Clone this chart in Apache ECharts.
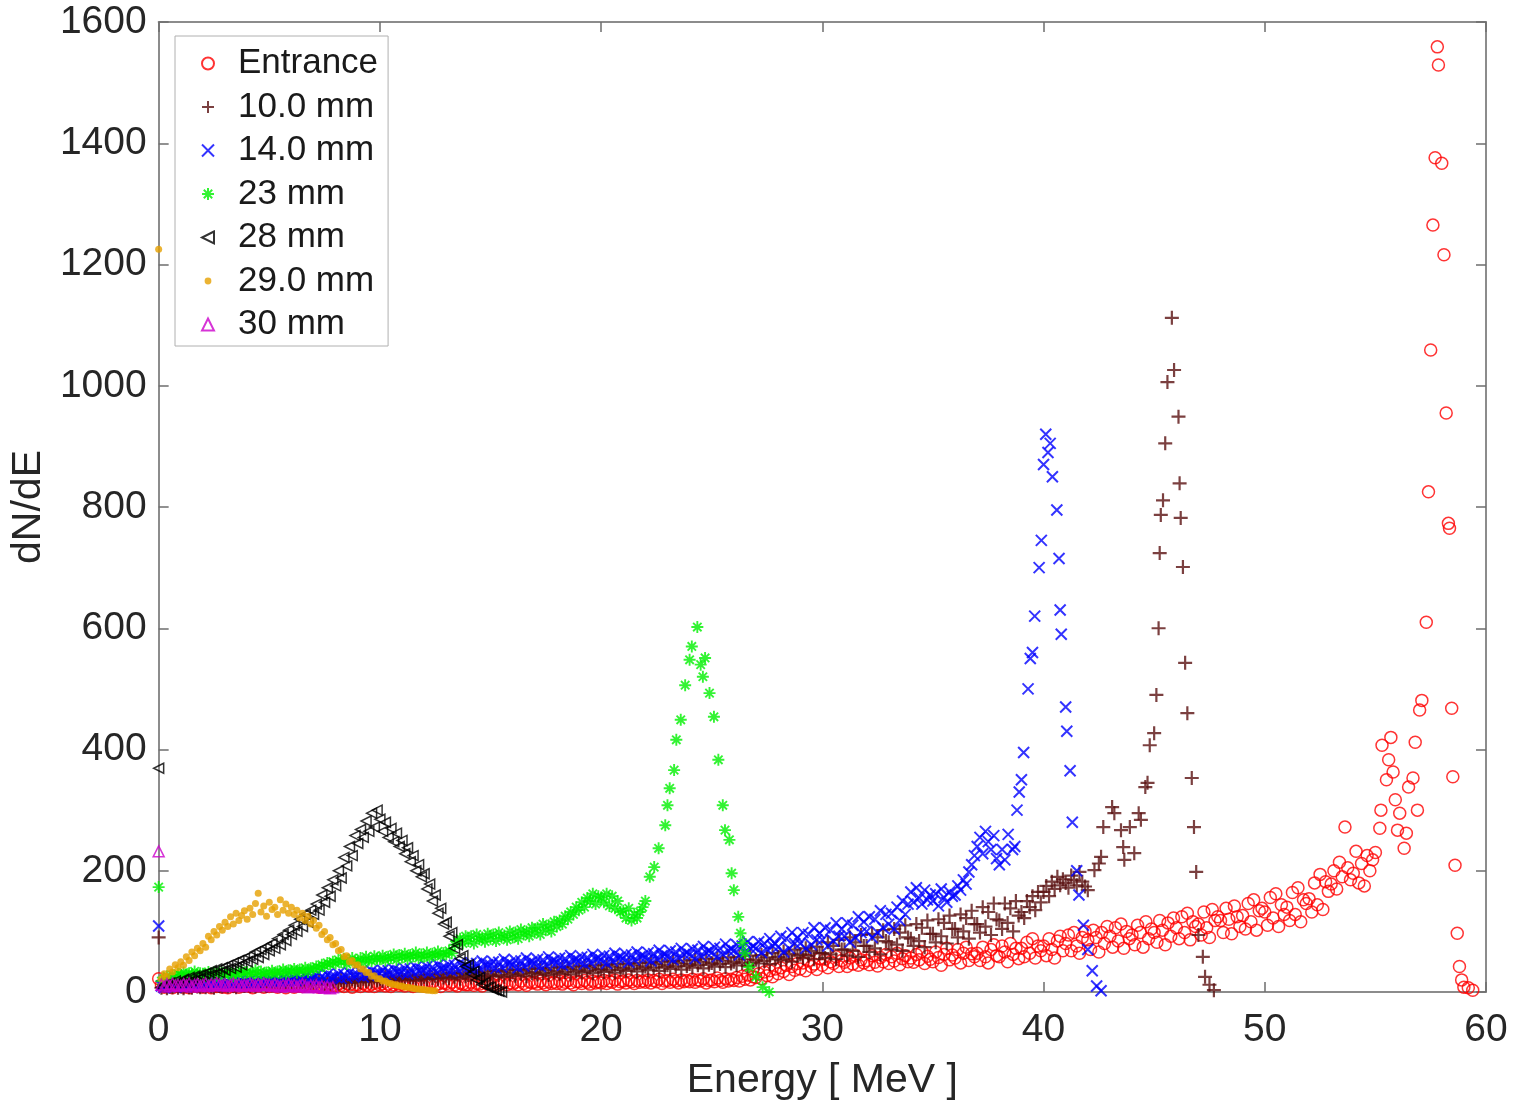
<!DOCTYPE html>
<html>
<head>
<meta charset="utf-8">
<script src="https://cdn.jsdelivr.net/npm/echarts@6/dist/echarts.min.js"></script>
<style>
html,body{margin:0;padding:0;background:#fff;}
#chart{width:1518px;height:1106px;}
</style>
</head>
<body>
<div id="chart"></div>
<script>
// ---- data (dN/dE vs Energy [MeV]) ----
const seriesNames = ['Entrance', '10.0 mm', '14.0 mm', '23 mm', '28 mm', '29.0 mm', '30 mm'];
const xTicks = [0, 10, 20, 30, 40, 50, 60];
const yTicks = [0, 200, 400, 600, 800, 1000, 1200, 1400, 1600];
const binStep = 0.125; // baseline bins start at E = 0, 8 bins per MeV

const entranceBase = [
 22,12,8,14,10,7,13,9, 11,8,12,7,10,13,9,11, 8,12,10,7,11,9,13,8, 10,7,12,9,13,8,11,10,
 12,9,7,11,10,14,8,12, 9,13,10,8,12,11,7,13, 11,8,13,10,9,12,14,10, 13,10,8,12,11,9,14,11,
 10,13,11,9,14,12,8,12, 12,9,14,11,10,13,9,15, 11,14,10,13,9,12,15,11, 13,10,15,12,9,14,11,13,
 10,14,12,16,11,13,9,15, 14,11,16,12,10,15,13,12, 12,16,11,14,13,10,17,13, 15,12,17,11,14,16,12,15,
 13,16,12,18,14,11,17,15, 16,13,18,15,12,17,14,16, 14,18,13,16,19,15,12,17, 17,14,19,16,13,18,15,17,
 15,19,14,18,16,20,13,17, 18,15,20,17,14,19,16,18, 16,20,15,19,17,21,14,18, 19,16,21,18,15,20,17,19,
 17,21,16,20,18,22,15,19, 20,17,23,19,16,22,18,21, 19,24,18,26,21,28,20,25, 24,30,22,33,27,35,25,38,
 30,40,34,44,29,42,36,47, 38,48,35,52,42,46,37,55, 44,54,40,50,47,58,42,52, 49,42,56,46,60,44,53,48,
 52,45,60,49,43,57,50,62, 47,58,51,64,45,55,60,50, 56,49,62,53,67,47,59,54,
 50,66,57,44,62,72,53,61, 56,70,48,64,74,52,63,58, 64,52,74,58,48,70,78,60, 58,76,66,50,80,62,72,55,
 72,58,82,64,88,56,76,68, 76,60,88,70,56,84,92,68, 80,94,68,98,76,64,90,100, 86,70,102,90,66,98,80,108,
 92,74,106,84,112,72,100,88, 94,78,110,98,74,116,88,104, 98,82,118,102,78,114,92,122,
 106,88,124,98,130,86,116,108, 112,94,132,106,90,136,118,124, 118,98,138,120,96,142,124,108,
 126,104,146,116,152,102,134,138, 132,110,156,122,162,108,144,128, 140,118,164,128,172,116,152,146,
 154,132,180,144,194,136,182,166, 178,200,170,214,190,272,205,185, 196,232,180,212,175,225,200,218, 230
];
const entrancePeak = [
 [55.2,270],[55.25,300],[55.3,407],[55.5,350],[55.6,383],[55.7,420],[55.8,363],[55.9,317],
 [56.0,267],[56.1,295],[56.3,237],[56.4,262],[56.5,338],[56.7,353],[56.8,412],[56.9,300],
 [57.0,465],[57.1,481],[57.3,610],[57.4,825],[57.5,1059],[57.6,1265],[57.7,1376],[57.8,1559],
 [57.85,1529],[58.0,1367],[58.1,1216],[58.2,955],[58.3,773],[58.35,765],[58.45,468],[58.5,355],
 [58.6,209],[58.7,97],[58.8,42],[58.9,20],[59.0,8],[59.2,7],[59.4,3]
];

const mm10Base = [
 90,7,10,6,9,8,11,7, 9,6,10,8,7,11,9,8, 10,8,12,9,7,11,10,9, 11,9,13,10,8,12,11,10,
 12,10,14,9,13,11,15,10, 13,11,15,12,10,16,12,14, 15,12,17,13,16,11,18,14, 16,13,18,15,12,19,14,17,
 18,14,20,16,19,15,21,17, 20,16,22,18,21,17,24,19, 22,18,25,20,23,19,26,21, 23,20,27,21,25,19,28,22,
 25,21,29,23,27,22,30,24, 27,23,31,25,29,22,32,26, 28,24,33,26,31,23,34,27, 30,26,35,28,33,25,36,29,
 32,27,37,30,35,26,38,31, 33,29,39,31,36,28,40,32, 35,30,41,33,38,29,42,34, 37,32,43,35,40,31,44,36,
 38,33,45,36,42,32,46,37, 40,35,47,38,44,34,48,39, 42,36,49,40,46,35,50,41, 44,38,51,42,48,37,52,43,
 46,40,53,44,50,39,55,45, 48,42,55,46,52,41,57,47, 50,44,58,48,54,43,60,49, 53,47,61,51,57,46,64,54,
 58,52,67,55,63,50,70,60, 62,56,72,60,68,54,75,64, 64,56,82,62,76,54,86,70, 70,60,90,68,82,58,94,76,
 76,66,96,72,90,62,102,84, 82,70,104,78,98,68,110,90, 88,76,112,84,106,74,118,96, 96,82,120,92,114,80,126,104,
 104,90,128,100,122,88,134,112, 112,98,140,108,132,94,146,120, 118,104,146,114,138,100,150,126,
 132,122,150,140,158,135,165,148, 165,175,158,182,170,190,176,186, 180,172,192,185,176,198,182,174, 168
];
const mm10Peak = [
 [42.3,201],[42.5,212],[42.6,223],[42.7,272],[43.1,305],[43.2,295],[43.5,267],[43.6,239],
 [43.65,218],[43.9,272],[44.1,229],[44.3,295],[44.4,284],[44.6,338],[44.7,345],[44.8,407],
 [45.0,427],[45.1,490],[45.2,600],[45.25,724],[45.3,787],[45.4,811],[45.5,905],[45.6,1006],
 [45.8,1112],[45.9,1026],[46.1,949],[46.15,839],[46.2,782],[46.3,701],[46.4,543],[46.5,460],
 [46.7,353],[46.8,272],[46.9,198],[47.0,94],[47.2,58],[47.3,25],[47.5,12],[47.7,3]
];

const mm14Base = [
 109,10,7,12,9,13,8,11, 10,13,9,12,14,10,13,11, 12,15,11,14,10,16,13,12, 14,17,12,16,13,18,15,14,
 16,19,14,18,15,20,17,16, 18,21,16,20,17,23,19,18, 20,24,18,23,19,26,21,22, 23,27,20,26,22,29,24,25,
 25,30,22,29,24,32,27,28, 28,33,25,32,27,35,30,31, 31,36,28,35,29,38,33,34, 33,39,30,38,32,41,35,37,
 36,42,32,41,34,45,38,40, 39,45,35,44,37,48,41,43, 41,48,37,47,39,51,44,45, 44,50,39,49,41,54,46,48,
 45,52,40,51,43,56,48,50, 47,54,42,53,45,58,50,52, 49,56,44,55,47,60,52,54, 51,58,46,57,49,62,54,56,
 53,60,47,59,51,64,56,58, 55,62,49,61,53,66,58,60, 57,65,51,63,55,69,60,62, 59,68,53,66,57,72,62,65,
 62,71,55,69,60,75,65,68, 65,74,58,72,62,79,68,71, 68,78,61,76,66,83,72,75, 72,83,65,80,70,88,76,80,
 74,92,66,88,72,98,80,90, 80,98,72,95,78,106,86,97, 86,106,76,102,84,114,92,104, 92,114,82,110,90,124,98,116,
 100,124,90,120,98,134,106,128, 112,130,104,140,118,150,128,145, 165,148,172,155,145,168,152,160,
 150,162,142,170,156,148,165,158, 160,175,168,185,178,198,210,225, 240,255,228,265,248,235,258,220,
 210,235,218
];
const mm14Peak = [
 [38.4,260],[38.6,235],[38.7,240],[38.8,300],[38.9,330],[39.0,350],[39.1,395],[39.3,500],
 [39.4,550],[39.5,560],[39.6,620],[39.8,700],[39.9,745],[40.0,870],[40.1,920],[40.2,890],
 [40.3,905],[40.4,850],[40.6,795],[40.7,715],[40.75,630],[40.8,590],[41.0,470],[41.05,430],
 [41.2,365],[41.3,280],[41.5,200],[41.6,160],[41.8,110],[42.0,70],[42.2,35],[42.4,10],[42.6,2]
];

const mm23Base = [
 173,18,22,26,24,28,25,30, 28,32,27,31,29,34,28,31, 30,26,33,29,32,27,34,30, 28,33,30,26,32,29,35,31,
 33,29,31,36,28,34,30,32, 31,35,29,34,32,37,30,36, 34,38,32,37,35,40,33,39, 38,42,40,45,43,48,46,50,
 47,53,49,55,46,52,56,50, 50,56,48,58,53,51,59,55, 54,60,52,58,56,62,53,61, 57,63,55,61,59,65,56,62,
 58,65,57,63,61,67,59,64, 62,68,64,78,84,88,80,92, 84,92,80,95,87,90,83,96, 88,95,84,98,90,93,86,100,
 90,98,88,103,95,100,92,106, 98,106,95,112,102,110,100,116, 108,118,112,125,120,132,128,140,
 135,148,140,155,150,162,145,158, 156,148,162,142,158,138,150,132, 134,122,138,118,128,122,132,140, 150
];
const mm23Peak = [
 [22.2,190],[22.4,206],[22.6,237],[22.9,275],[23.0,308],[23.1,336],[23.3,366],[23.4,416],
 [23.6,449],[23.8,506],[24.0,548],[24.1,570],[24.35,602],[24.5,540],[24.6,520],[24.7,551],
 [24.9,493],[25.1,454],[25.3,383],[25.5,308],[25.6,267],[25.8,251],[25.9,196],[26.0,168],
 [26.2,124],[26.3,97],[26.4,81],[26.5,64],[26.7,41],[27.0,25],[27.3,8],[27.6,0]
];

const mm28Base = [
 369,8,12,10,15,12,18,14, 17,21,16,24,19,26,21,28, 25,31,27,35,29,38,32,40, 36,44,39,48,41,52,45,56,
 50,60,54,66,57,70,62,75, 68,80,72,88,78,95,85,102, 95,110,100,120,108,128,115,135,
 128,145,135,160,148,172,158,185, 175,200,188,222,208,240,225,258, 245,268,255,282,265,295,272,300,
 285,265,280,255,270,248,262,240, 250,228,238,215,225,200,210,190, 195,170,178,150,160,130,138,112,
 115,92,98,72,78,55,60,42, 45,30,34,20,24,12,16,8, 8,4,3,1,0
];
const mm29Base = [
 1225,22,30,26,38,33,45,40, 50,44,58,52,66,60,72,68, 80,74,92,86,100,94,108,102, 115,108,124,112,130,118,126,134,
 120,138,128,146,163,132,142,125, 148,136,140,128,152,135,145,130, 140,128,135,122,130,118,125,112,
 118,105,110,95,100,86,90,78, 80,68,70,58,60,50,52,44, 45,38,38,32,32,26,27,22, 22,18,18,15,14,12,12,10,
 10,8,8,7,6,5,5,4, 4,3,3,2,2
];
const mm30Base = [
 232,12,9,13,10,14,11,12, 10,13,11,14,9,12,13,10, 12,14,10,13,11,15,12,11, 13,10,12,14,11,13,10,12,
 11,14,12,10,13,11,14,12, 12,10,13,11,9,12,10,13, 10,12,9,11,13,10,8,11, 9,11,8,10,7,9,6,8
];

// ---- build point lists from the bins ----
function bins(values) { return values.map((v, i) => [i * binStep, v]); }
const entranceData = bins(entranceBase).concat(entrancePeak);
const mm10Data = bins(mm10Base).concat(mm10Peak);
const mm14Data = bins(mm14Base).concat(mm14Peak);
const mm23Data = bins(mm23Base).concat(mm23Peak);
const mm28Data = bins(mm28Base);
const mm29Data = bins(mm29Base);
const mm30Data = bins(mm30Base);

const PLUS = 'path://M0,5L10,5M5,0L5,10';
const CROSS = 'path://M0,0L10,10M10,0L0,10';
const STAR = 'path://M0,5L10,5M5,0L5,10M1.5,1.5L8.5,8.5M8.5,1.5L1.5,8.5';
const LTRI = 'path://M10,0L0,5L10,10Z';
const SMALLDOT = 'path://M0,0L0,0M12,12L12,12M2.6,6A3.4,3.4,0,1,1,9.4,6A3.4,3.4,0,1,1,2.6,6Z';

function open(color, w) { return { color: 'rgba(0,0,0,0)', borderColor: color, borderWidth: w }; }

const chart = echarts.init(document.getElementById('chart'), null, { renderer: 'canvas' });
const FONT = 'Liberation Sans, Arial, Helvetica, sans-serif';
const axisLineStyle = { color: '#8c8c8c', width: 2 };
const tickStyle = { color: '#6e6e6e', width: 1.5 };

chart.setOption({
  backgroundColor: '#ffffff',
  animation: false,
  textStyle: { fontFamily: FONT },
  grid: { left: 155, right: 32, top: 22, bottom: 114, containLabel: false },
  legend: {
    orient: 'vertical',
    left: 175, top: 36,
    padding: [10, 10, 4, 26],
    itemGap: 8.5,
    itemWidth: 12, itemHeight: 12,
    backgroundColor: '#ffffff',
    borderColor: '#b0b0b0', borderWidth: 1, borderRadius: 0,
    textStyle: { fontSize: 35, color: '#1a1a1a', fontFamily: FONT, padding: [0, 0, 0, 19] },
    data: [
      { name: 'Entrance' }, { name: '10.0 mm' }, { name: '14.0 mm' }, { name: '23 mm' },
      { name: '28 mm' }, { name: '29.0 mm', icon: SMALLDOT }, { name: '30 mm' }
    ]
  },
  xAxis: [{
    type: 'value', min: 0, max: 60, interval: 10,
    name: 'Energy [ MeV ]', nameLocation: 'middle', nameGap: 68,
    nameTextStyle: { fontSize: 41, color: '#262626', fontFamily: FONT },
    axisLine: { show: true, onZero: false, lineStyle: axisLineStyle },
    axisTick: { show: true, inside: true, length: 10, lineStyle: tickStyle },
    axisLabel: { fontSize: 39, color: '#262626', margin: 19, fontFamily: FONT,
      formatter: v => xTicks.includes(v) ? String(v) : '' },
    splitLine: { show: false }
  }, {
    type: 'value', min: 0, max: 60, interval: 10, position: 'top',
    axisLine: { show: true, onZero: false, lineStyle: axisLineStyle },
    axisTick: { show: true, inside: true, length: 10, lineStyle: tickStyle },
    axisLabel: { show: false }, splitLine: { show: false }
  }],
  yAxis: [{
    type: 'value', min: 0, max: 1600, interval: 200,
    name: 'dN/dE', nameLocation: 'middle', nameGap: 100,
    nameTextStyle: { fontSize: 41, color: '#262626', fontFamily: FONT },
    axisLine: { show: true, onZero: false, lineStyle: axisLineStyle },
    axisTick: { show: true, inside: true, length: 10, lineStyle: tickStyle },
    axisLabel: { fontSize: 39, color: '#262626', margin: 12, fontFamily: FONT,
      formatter: v => yTicks.includes(v) ? String(v) : '' },
    splitLine: { show: false }
  }, {
    type: 'value', min: 0, max: 1600, interval: 200, position: 'right',
    axisLine: { show: true, onZero: false, lineStyle: axisLineStyle },
    axisTick: { show: true, inside: true, length: 10, lineStyle: tickStyle },
    axisLabel: { show: false }, splitLine: { show: false }
  }],
  series: [
    { name: 'Entrance', type: 'scatter', data: entranceData, symbol: 'circle', symbolSize: 12,
      itemStyle: open('#ff0000', 1.5) },
    { name: '10.0 mm', type: 'scatter', data: mm10Data, symbol: PLUS, symbolSize: 14,
      itemStyle: open('#5a1010', 2.2) },
    { name: '14.0 mm', type: 'scatter', data: mm14Data, symbol: CROSS, symbolSize: 11,
      itemStyle: open('#0000ff', 2) },
    { name: '23 mm', type: 'scatter', data: mm23Data, symbol: STAR, symbolSize: 12,
      itemStyle: open('#00f000', 1.9) },
    { name: '28 mm', type: 'scatter', data: mm28Data, symbol: LTRI, symbolSize: 10,
      itemStyle: open('#000000', 1.5) },
    { name: '29.0 mm', type: 'scatter', data: mm29Data, symbol: 'circle', symbolSize: 7,
      itemStyle: { color: '#e6a000' } },
    { name: '30 mm', type: 'scatter', data: mm30Data, symbol: 'triangle', symbolSize: 11,
      itemStyle: open('#cc00cc', 1.5) }
  ]
});
</script>
</body>
</html>
